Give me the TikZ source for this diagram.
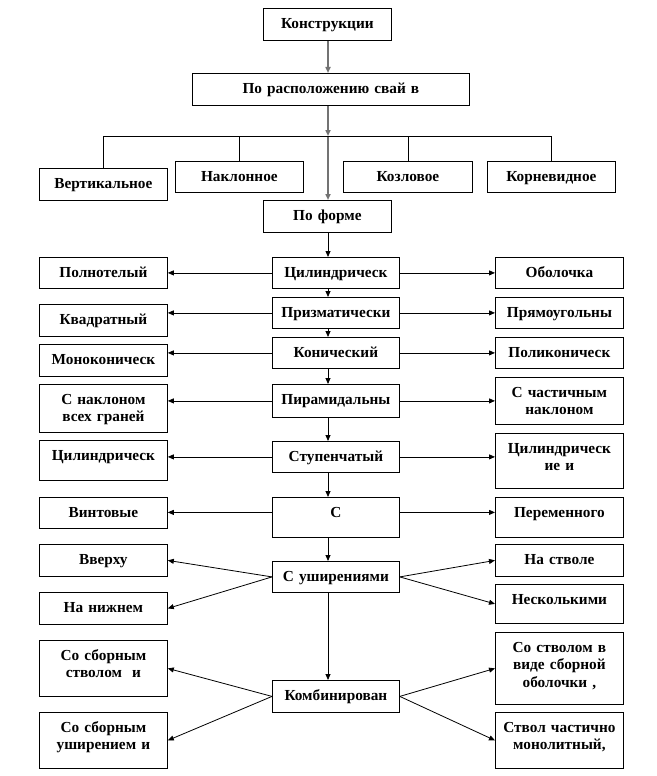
\documentclass[tikz,border=0pt]{standalone}
\usepackage{fontspec}
\setmainfont{Liberation Serif}
\usetikzlibrary{arrows.meta}
\tikzset{
    caja/.style={draw, line width=0.8pt, anchor=north west, inner xsep=2pt, inner ysep=8pt,
        text height=12pt, align=center, font=\fontsize{15.3}{17.5}\selectfont\bfseries},
    lado/.style={caja, text width=124pt},
    centro/.style={caja, text width=123pt},
    flecha/.style={line width=0.8pt, -{Triangle[length=6pt,width=5pt]}},
    gris/.style={draw=gray, line width=1.6pt, -{Triangle[length=6pt,width=5pt]}, color=gray!90!black},
    linea/.style={line width=0.8pt}
}
\begin{document}
\begin{tikzpicture}[x=1pt, y=-1pt]
            \useasboundingbox (0,0) rectangle (656,776);
            \node[caja, text width=124pt, text depth=4pt] (constr) at (263,8) {Конструкции};
            \node[caja, text width=273pt, text depth=4pt] (pos) at (192,73) {По расположению свай в};
            \node[lado, text depth=4pt] (vert) at (39,168) {Вертикальное};
            \node[lado, text depth=3pt] (nakl) at (175,161) {Наклонное};
            \node[caja, text width=125pt, text depth=3pt] (kozl) at (343,161) {Козловое};
            \node[lado, text depth=3pt] (korn) at (487,161) {Корневидное};
            \node[caja, text width=124pt, text depth=4pt] (forma) at (263,200) {По форме};
            \node[centro, text depth=3pt] (cil) at (272,257) {Цилиндрическ};
            \node[centro, text depth=3pt] (prizm) at (272,297) {Призматически};
            \node[centro, text depth=3pt] (kon) at (272,337) {Конический};
            \node[centro, text depth=5pt] (pir) at (272,384) {Пирамидальны};
            \node[centro, text depth=3pt] (stup) at (272,441) {Ступенчатый};
            \node[centro, text depth=12pt] (sprof) at (272,497) {С};
            \node[centro, text depth=3pt] (ush) at (272,561) {С уширениями};
            \node[centro, text depth=4pt] (komb) at (272,680) {Комбинирован};
            \node[lado, text depth=3pt] (poln) at (39,257) {Полнотелый};
            \node[lado, text depth=4pt] (kvad) at (39,304) {Квадратный};
            \node[lado, text depth=4pt] (mono) at (39,344) {Моноконическ};
            \node[lado, text depth=20pt] (snakl) at (39,384) {С наклоном\\всех граней};
            \node[lado, text depth=12pt] (cilst) at (39,440) {Цилиндрическ};
            \node[lado, text depth=3pt] (vint) at (39,497) {Винтовые};
            \node[lado, text depth=4pt] (vverhu) at (39,544) {Вверху};
            \node[lado, text depth=4pt] (nizh) at (39,592) {На нижнем};
            \node[lado, text depth=28pt] (sbstv) at (39,640) {Со сборным\\стволом~~и};
            \node[lado, text depth=28pt] (sbush) at (39,712) {Со сборным\\уширением и};
            \node[lado, text depth=3pt] (obol) at (495,257) {Оболочка};
            \node[lado, text depth=3pt] (pryam) at (495,297) {Прямоугольны};
            \node[lado, text depth=3pt] (polik) at (495,337) {Поликоническ};
            \node[lado, text depth=19pt] (schast) at (495,377) {С частичным\\наклоном};
            \node[lado, text depth=27pt] (cilkon) at (495,433) {Цилиндрическ\\ие и};
            \node[lado, text depth=12pt] (perem) at (495,497) {Переменного};
            \node[lado, text depth=4pt] (nastv) at (495,544) {На стволе};
            \node[lado, text depth=11pt] (neskol) at (495,584) {Несколькими};
            \node[lado, text depth=44pt] (sostv) at (495,632) {Со стволом в\\виде сборной\\оболочки ,};
            \node[lado, text depth=28pt] (stvol) at (495,712) {Ствол частично\\монолитный,};
            \coordinate (eje) at (328,0);
            \coordinate (bus) at (328,136);
            \draw[gris] (constr.south -| eje) -- (pos.north -| eje);
            \draw[gris] (pos.south -| eje) -- (bus);
            \draw[gris] (bus) -- (forma.north -| eje);
            \draw[linea] (vert.north) |- (korn.north |- bus) -- (korn.north);
            \draw[linea] (nakl.north) -- (nakl.north |- bus);
            \draw[linea] (kozl.north) -- (kozl.north |- bus);
            \draw[flecha] (forma.south -| eje) -- (cil.north -| eje);
            \draw[flecha] (cil.south -| eje) -- (prizm.north -| eje);
            \draw[flecha] (prizm.south -| eje) -- (kon.north -| eje);
            \draw[flecha] (kon.south -| eje) -- (pir.north -| eje);
            \draw[flecha] (pir.south -| eje) -- (stup.north -| eje);
            \draw[flecha] (stup.south -| eje) -- (sprof.north -| eje);
            \draw[flecha] (sprof.south -| eje) -- (ush.north -| eje);
            \draw[flecha] (ush.south -| eje) -- (komb.north -| eje);
            \draw[flecha] (cil.west) -- (cil.west -| poln.east);
            \draw[flecha] (cil.east) -- (cil.east -| obol.west);
            \draw[flecha] (prizm.west) -- (prizm.west -| kvad.east);
            \draw[flecha] (prizm.east) -- (prizm.east -| pryam.west);
            \draw[flecha] (kon.west) -- (kon.west -| mono.east);
            \draw[flecha] (kon.east) -- (kon.east -| polik.west);
            \draw[flecha] (pir.west) -- (pir.west -| snakl.east);
            \draw[flecha] (pir.east) -- (pir.east -| schast.west);
            \draw[flecha] (stup.west) -- (stup.west -| cilst.east);
            \draw[flecha] (stup.east) -- (stup.east -| cilkon.west);
            \draw[flecha] ([yshift=5pt]sprof.west) -- ([yshift=5pt]sprof.west -| vint.east);
            \draw[flecha] ([yshift=5pt]sprof.east) -- ([yshift=5pt]sprof.east -| perem.west);
            \draw[flecha] (ush.west) -- (vverhu.east);
            \draw[flecha] (ush.west) -- (nizh.east);
            \draw[flecha] (ush.east) -- (nastv.west);
            \draw[flecha] (ush.east) -- (neskol.west);
            \draw[flecha] (komb.west) -- (sbstv.east);
            \draw[flecha] (komb.west) -- (sbush.east);
            \draw[flecha] (komb.east) -- (sostv.west);
            \draw[flecha] (komb.east) -- (stvol.west);
\end{tikzpicture}
\end{document}
